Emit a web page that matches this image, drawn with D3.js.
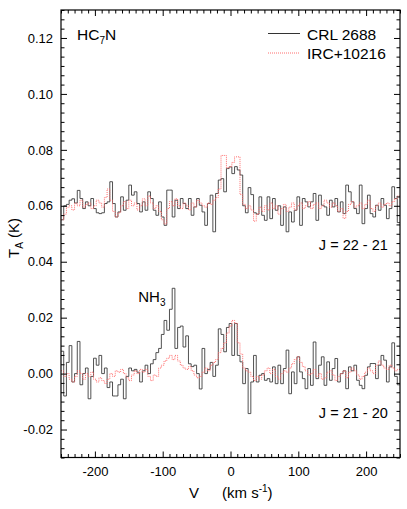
<!DOCTYPE html>
<html>
<head>
<meta charset="utf-8">
<script src="https://cdnjs.cloudflare.com/ajax/libs/d3/7.8.5/d3.min.js"></script>
<style>
  body { margin: 0; background: #fff; }
  svg { display: block; font-family: "Liberation Sans", Arial, sans-serif; }
</style>
</head>
<body>
<svg id="chart"></svg>
<script>
// velocity grid of the spectra (km/s): first channel edge and channel width
const vStart = -250;
const vStep = 4;

// antenna temperature in mK, one value per channel
const crl2221 = [
  55, 60, 60.5, 62, 62.5, 61, 65.5, 62.6, 59, 61.4, 60, 62.6, 59, 57.5, 57.2, 57.5, 60.8, 61.4, 68.6, 60.8,
  56, 57.8, 63.2, 58.4, 62, 67.4, 63.8, 65, 60.8, 57.8, 61.4, 58.4, 65, 62.6, 58.4, 56.6, 61.4, 56, 53, 65.6,
  65.6, 56, 62, 59, 62.6, 60.8, 59, 62.6, 56.6, 59.6, 62.6, 60.2, 57.8, 53, 60.8, 63.8, 50.7, 64.4, 69.2, 69.7,
  65, 73.3, 73.9, 71.5, 74, 72.8, 71, 60, 57.5, 66.5, 64, 57.5, 57, 63.2, 56.6, 54.8, 63.2, 55.4, 62.6, 58.4,
  60, 53, 59.6, 50.7, 57.8, 54.2, 58.4, 63.2, 53, 62.6, 61.4, 59.6, 61.4, 64.4, 54.8, 63.8, 60.2, 59.6, 56.6, 62,
  59.6, 62.6, 57.8, 61.4, 57.2, 67.4, 65, 61.4, 59, 57.2, 67.4, 53.6, 59, 63.8, 57.2, 56, 60.2, 58.4, 62.6, 60.2,
  55.4, 59, 66.8, 62.6, 54
];
const irc2221 = [
  55, 57, 59.5, 60, 58.5, 61, 60, 62, 59.5, 60.5, 61, 59, 60, 62, 61, 59.5, 63, 66, 62, 58,
  56, 57.5, 60, 61.5, 59, 62, 60, 61, 58.5, 60, 62.5, 60, 63.5, 61, 59, 60, 58, 55, 53.5, 59,
  61.5, 60, 62.5, 60, 59, 61, 60, 58.5, 61, 59.5, 62, 61, 60, 59.5, 61, 60.5, 62, 63, 66, 78,
  78, 73.5, 74, 75.5, 77.5, 77.5, 64, 60.5, 59, 60, 58.5, 54.5, 57, 59.5, 58, 60, 58.5, 61, 59, 60,
  57, 59, 60.5, 58, 59.5, 61, 58.5, 60, 61, 59, 60, 61.5, 59, 60.5, 61, 59, 60, 62, 61, 59.5,
  61, 60, 58, 59, 55.5, 58, 60.5, 61.5, 59.5, 60, 61, 59, 60.5, 62, 59, 58, 60, 61, 59.5, 60.5,
  61, 60, 61.5, 62.5, 63.5
];
const crl2120 = [
  8, -8, 4, 10, -3, 0, 11.5, -4, 0, 2, -9, -1, 5.5, 3, 6.5, 0, 2, -5, -3, -8,
  -8, -4, -2, -9, -1, 2, 1, 1.5, 0.5, -3, 1, 3, 0, 3.5, 5, 7.5, 9, 14, 19, 15.5,
  23, 30.5, 9, 16.5, 17, 9.5, 13.5, 3.5, 2.5, 3, 0, -5.5, 9, 0, 1.5, 4, -1, 3, 16, 14,
  7.8, 16.5, 17.9, 6.5, 17.9, 6.5, 4.2, -3.6, 1.8, -14.3, -3, 6.5, -3, -0.6, 0, -2.4, -1.8, -3, 2.4, -3.6,
  3, -3.6, 1.8, 8.4, -7.2, 0.6, -3.6, 6, 0.6, -1.8, -5.4, 1.8, -4.2, 11.3, -1.8, 3, 6, -4.2, 4.2, -2.4,
  1.8, 5.4, -3, 0, 1, -5.4, 2.4, 1, 3, -2.4, -4.2, -5.4, -0.6, 2.4, 3.6, 3.6, -1.8, 3, 6.5, 4.8,
  -3, 2.4, 11, -1, -4
];
const irc2120 = [
  1, -1, 0, -2, -3, -1, 1, 0, -2, 0, -1, 0.5, -2, -3, -1.5, -2.5, -3.5, -2, 0, -1,
  1, 0.5, 1.5, 0, -1.5, -2.5, -0.5, 1, 0, 1.5, 0.5, 1.5, -1, -2.5, -0.5, -1, 2, 3, 4.5, 5.5,
  6.5, 5, 6.5, 4.5, 3, 2, 1.5, 2.5, 1, -0.5, -1.5, -1, 0.5, 2, 1, 3, 4, 5, 7.5, 9,
  11, 14.5, 17, 19, 18, 11, 7, 2, 1, 0.5, -1, -2.5, -1, -2, -0.5, 1, 2, 0, 1.5, -1,
  -2, 0, 1, 0.5, 2, 3.5, 5, 6, 4, 2.5, 1, -0.5, 0, 1.5, -1, 0, -2, -1.5, 0.5, 1,
  -0.5, -2.5, -1, 0, 1, -1.5, 0.5, 2, 1, -0.5, -2, -1, 0.5, 2, 1, 0, 3, 4.5, 3, 2,
  1.5, 3, 2, 1, 1.5
];

const xTicks = [-200, -100, 0, 100, 200];
const yTicks = [-0.02, 0, 0.02, 0.04, 0.06, 0.08, 0.10, 0.12];

const W = 407, H = 509;
const plot = { left: 61, right: 400, top: 10, bottom: 457.5 };

const x = d3.scaleLinear().domain([-250, 250]).range([plot.left, plot.right]);
const y = d3.scaleLinear().domain([-0.03, 0.13]).range([plot.bottom, plot.top]);

const svg = d3.select('#chart').attr('width', W).attr('height', H);

svg.append('defs').append('clipPath').attr('id', 'clip')
  .append('rect')
  .attr('x', plot.left).attr('y', plot.top)
  .attr('width', plot.right - plot.left).attr('height', plot.bottom - plot.top);

// turn a channel list into step points (left edges + closing right edge)
function toSteps(values) {
  const pts = values.map((t, i) => [vStart + i * vStep, t / 1000]);
  pts.push([vStart + values.length * vStep, values[values.length - 1] / 1000]);
  return pts;
}

const line = d3.line()
  .x(d => x(d[0]))
  .y(d => y(d[1]))
  .curve(d3.curveStepAfter);

const spectra = svg.append('g').attr('clip-path', 'url(#clip)');

const crlColor = '#333';
const ircColor = '#ff6e6e';

// black = CRL 2688, red dotted = IRC+10216
[crl2221, crl2120].forEach(s => {
  spectra.append('path')
    .attr('d', line(toSteps(s)))
    .attr('fill', 'none')
    .attr('stroke', crlColor)
    .attr('stroke-width', 0.85);
});
[irc2221, irc2120].forEach(s => {
  spectra.append('path')
    .attr('d', line(toSteps(s)))
    .attr('fill', 'none')
    .attr('stroke', ircColor)
    .attr('stroke-width', 1)
    .attr('stroke-dasharray', '1,1');
});

// ticks: major + minor on all four sides, pointing inward
const xMinor = d3.range(-250, 251, 10).filter(v => v % 100 !== 0);
const yMinor = d3.range(-9, 40).filter(k => k % 6 !== 0).map(k => k * 0.02 / 6);

function addAxis(gen, tx, ty) {
  const g = svg.append('g')
    .attr('transform', `translate(${tx},${ty})`)
    .call(gen)
    .attr('font-family', null)
    .attr('font-size', 13);
  g.select('.domain').remove();
  g.selectAll('line').attr('stroke', '#000');
  g.selectAll('text').attr('fill', '#000');
  return g;
}

addAxis(d3.axisBottom(x).tickValues(xTicks).tickSizeInner(-6).tickSizeOuter(0)
  .tickPadding(9).tickFormat(d => String(d)), 0, plot.bottom);
addAxis(d3.axisBottom(x).tickValues(xMinor).tickSizeInner(-3.5).tickSizeOuter(0)
  .tickFormat(''), 0, plot.bottom);
addAxis(d3.axisTop(x).tickValues(xTicks).tickSizeInner(-6).tickSizeOuter(0)
  .tickFormat(''), 0, plot.top);
addAxis(d3.axisTop(x).tickValues(xMinor).tickSizeInner(-3.5).tickSizeOuter(0)
  .tickFormat(''), 0, plot.top);

addAxis(d3.axisLeft(y).tickValues(yTicks).tickSizeInner(-6).tickSizeOuter(0)
  .tickPadding(8).tickFormat(d => d.toFixed(2)), plot.left, 0);
addAxis(d3.axisLeft(y).tickValues(yMinor).tickSizeInner(-3.5).tickSizeOuter(0)
  .tickFormat(''), plot.left, 0);
addAxis(d3.axisRight(y).tickValues(yTicks).tickSizeInner(-6).tickSizeOuter(0)
  .tickFormat(''), plot.right, 0);
addAxis(d3.axisRight(y).tickValues(yMinor).tickSizeInner(-3.5).tickSizeOuter(0)
  .tickFormat(''), plot.right, 0);

// frame
svg.append('rect')
  .attr('x', plot.left).attr('y', plot.top)
  .attr('width', plot.right - plot.left).attr('height', plot.bottom - plot.top)
  .attr('fill', 'none')
  .attr('stroke', '#000')
  .attr('stroke-width', 1.2);

// molecule label
const mol = svg.append('text')
  .attr('x', plot.left + 16).attr('y', 40)
  .attr('font-size', 15.5);
mol.append('tspan').text('HC');
mol.append('tspan').attr('font-size', 10).attr('dy', 4).text('7');
mol.append('tspan').attr('dy', -4).text('N');

// legend
const legend = [
  { name: 'CRL 2688', color: crlColor, dash: null },
  { name: 'IRC+10216', color: ircColor, dash: '1,1' }
];
legend.forEach((d, i) => {
  const ly = 33.5 + i * 19.5;
  svg.append('line')
    .attr('x1', 268).attr('x2', 300)
    .attr('y1', ly).attr('y2', ly)
    .attr('stroke', d.color)
    .attr('stroke-width', 1)
    .attr('stroke-dasharray', d.dash);
  svg.append('text')
    .attr('x', 307).attr('y', ly + 6)
    .attr('font-size', 15.5)
    .text(d.name);
});

// transition labels
svg.append('text')
  .attr('x', x(232)).attr('y', y(0.0442))
  .attr('text-anchor', 'end')
  .attr('font-size', 14.5)
  .text('J = 22 - 21');
svg.append('text')
  .attr('x', x(232)).attr('y', y(-0.0159))
  .attr('text-anchor', 'end')
  .attr('font-size', 14.5)
  .text('J = 21 - 20');

const nh3 = svg.append('text')
  .attr('x', x(-136)).attr('y', y(0.0256))
  .attr('font-size', 15);
nh3.append('tspan').text('NH');
nh3.append('tspan').attr('font-size', 10).attr('dy', 4).text('3');

// axis titles
const yTitle = svg.append('text')
  .attr('transform', 'translate(19,238) rotate(-90)')
  .attr('text-anchor', 'middle')
  .attr('font-size', 15);
yTitle.append('tspan').text('T');
yTitle.append('tspan').attr('font-size', 10).attr('dy', 4).text('A');
yTitle.append('tspan').attr('dy', -4).text(' (K)');

svg.append('text')
  .attr('x', 194).attr('y', 498)
  .attr('text-anchor', 'middle')
  .attr('font-size', 15)
  .text('V');
const xTitle = svg.append('text')
  .attr('x', 222).attr('y', 498)
  .attr('font-size', 15);
xTitle.append('tspan').text('(km s');
xTitle.append('tspan').attr('font-size', 10).attr('dy', -6).text('-1');
xTitle.append('tspan').attr('dy', 6).text(')');
</script>
</body>
</html>
